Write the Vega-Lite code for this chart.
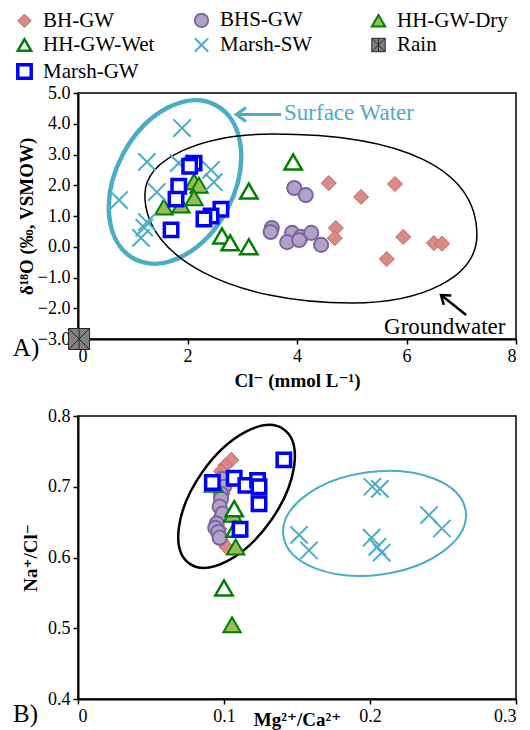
{
  "$schema": "https://vega.github.io/schema/vega-lite/v6.json",
  "padding": {"left": 12, "top": 8, "right": 5, "bottom": 0},
  "background": "white",
  "spacing": 15,
  "config": {
    "font": "Liberation Serif, Times New Roman, DejaVu Serif, serif",
    "view": {"stroke": "black", "strokeWidth": 1.5},
    "axis": {"domainColor": "black", "domainWidth": 2, "tickColor": "black", "tickWidth": 1.5, "tickSize": 5, "labelColor": "black", "labelFont": "Liberation Serif, Times New Roman, DejaVu Serif, serif", "labelFontSize": 18, "labelPadding": 3, "titleFont": "Liberation Serif, Times New Roman, DejaVu Serif, serif", "titleFontSize": 19, "titleFontWeight": "bold", "titleColor": "black", "grid": false},
    "legend": {"columns": 3, "direction": "horizontal", "labelFont": "Liberation Serif, Times New Roman, DejaVu Serif, serif", "labelFontSize": 21, "labelColor": "black", "symbolSize": 180, "columnPadding": 35, "rowPadding": -2.5, "labelOffset": 8, "gridAlign": "all", "padding": 0, "labelLimit": 300}
  },
  "resolve": {"scale": {"shape": "shared", "fill": "shared", "stroke": "shared", "strokeWidth": "shared", "size": "shared"}},
  "datasets": {
    "iso": [
      {"group": "BH-GW", "cl": 4.58, "d18o": 2.07},
      {"group": "BH-GW", "cl": 5.17, "d18o": 1.62},
      {"group": "BH-GW", "cl": 5.79, "d18o": 2.04},
      {"group": "BH-GW", "cl": 4.71, "d18o": 0.61},
      {"group": "BH-GW", "cl": 4.69, "d18o": 0.28},
      {"group": "BH-GW", "cl": 5.94, "d18o": 0.32},
      {"group": "BH-GW", "cl": 6.50, "d18o": 0.12},
      {"group": "BH-GW", "cl": 6.65, "d18o": 0.10},
      {"group": "BH-GW", "cl": 5.64, "d18o": -0.40},
      {"group": "BHS-GW", "cl": 3.95, "d18o": 1.91},
      {"group": "BHS-GW", "cl": 4.16, "d18o": 1.68},
      {"group": "BHS-GW", "cl": 3.54, "d18o": 0.61},
      {"group": "BHS-GW", "cl": 3.52, "d18o": 0.48},
      {"group": "BHS-GW", "cl": 3.91, "d18o": 0.45},
      {"group": "BHS-GW", "cl": 4.07, "d18o": 0.32},
      {"group": "BHS-GW", "cl": 4.26, "d18o": 0.45},
      {"group": "BHS-GW", "cl": 3.82, "d18o": 0.15},
      {"group": "BHS-GW", "cl": 4.04, "d18o": 0.22},
      {"group": "BHS-GW", "cl": 4.44, "d18o": 0.06},
      {"group": "HH-GW-Dry", "cl": 2.12, "d18o": 2.11},
      {"group": "HH-GW-Dry", "cl": 2.21, "d18o": 2.00},
      {"group": "HH-GW-Dry", "cl": 2.12, "d18o": 1.59},
      {"group": "HH-GW-Dry", "cl": 1.57, "d18o": 1.29},
      {"group": "HH-GW-Dry", "cl": 1.88, "d18o": 1.36},
      {"group": "HH-GW-Wet", "cl": 3.12, "d18o": 1.81},
      {"group": "HH-GW-Wet", "cl": 3.93, "d18o": 2.76},
      {"group": "HH-GW-Wet", "cl": 2.63, "d18o": 0.35},
      {"group": "HH-GW-Wet", "cl": 2.78, "d18o": 0.13},
      {"group": "HH-GW-Wet", "cl": 3.12, "d18o": 0.0},
      {"group": "Marsh-SW", "cl": 1.90, "d18o": 3.86},
      {"group": "Marsh-SW", "cl": 1.26, "d18o": 2.76},
      {"group": "Marsh-SW", "cl": 1.84, "d18o": 2.72},
      {"group": "Marsh-SW", "cl": 2.43, "d18o": 2.50},
      {"group": "Marsh-SW", "cl": 2.48, "d18o": 2.10},
      {"group": "Marsh-SW", "cl": 0.75, "d18o": 1.52},
      {"group": "Marsh-SW", "cl": 1.44, "d18o": 1.78},
      {"group": "Marsh-SW", "cl": 1.26, "d18o": 0.80},
      {"group": "Marsh-SW", "cl": 1.21, "d18o": 0.62},
      {"group": "Marsh-SW", "cl": 1.15, "d18o": 0.29},
      {"group": "Rain", "cl": 0.02, "d18o": -3.0},
      {"group": "Marsh-GW", "cl": 2.12, "d18o": 2.72},
      {"group": "Marsh-GW", "cl": 2.04, "d18o": 2.62},
      {"group": "Marsh-GW", "cl": 1.84, "d18o": 1.97},
      {"group": "Marsh-GW", "cl": 1.79, "d18o": 1.55},
      {"group": "Marsh-GW", "cl": 1.70, "d18o": 0.55},
      {"group": "Marsh-GW", "cl": 2.61, "d18o": 1.22},
      {"group": "Marsh-GW", "cl": 2.43, "d18o": 1.00},
      {"group": "Marsh-GW", "cl": 2.30, "d18o": 0.90}
    ],
    "ion": [
      {"group": "BH-GW", "mg": 0.105, "na": 0.738},
      {"group": "BH-GW", "mg": 0.101, "na": 0.730},
      {"group": "BH-GW", "mg": 0.098, "na": 0.722},
      {"group": "BH-GW", "mg": 0.097, "na": 0.713},
      {"group": "BH-GW", "mg": 0.099, "na": 0.690},
      {"group": "BH-GW", "mg": 0.098, "na": 0.660},
      {"group": "BH-GW", "mg": 0.097, "na": 0.640},
      {"group": "BH-GW", "mg": 0.098, "na": 0.624},
      {"group": "BH-GW", "mg": 0.102, "na": 0.614},
      {"group": "BHS-GW", "mg": 0.099, "na": 0.711},
      {"group": "BHS-GW", "mg": 0.100, "na": 0.700},
      {"group": "BHS-GW", "mg": 0.098, "na": 0.690},
      {"group": "BHS-GW", "mg": 0.098, "na": 0.683},
      {"group": "BHS-GW", "mg": 0.097, "na": 0.672},
      {"group": "BHS-GW", "mg": 0.099, "na": 0.662},
      {"group": "BHS-GW", "mg": 0.095, "na": 0.648},
      {"group": "BHS-GW", "mg": 0.094, "na": 0.642},
      {"group": "BHS-GW", "mg": 0.096, "na": 0.636},
      {"group": "BHS-GW", "mg": 0.097, "na": 0.628},
      {"group": "HH-GW-Dry", "mg": 0.106, "na": 0.661},
      {"group": "HH-GW-Dry", "mg": 0.108, "na": 0.615},
      {"group": "HH-GW-Dry", "mg": 0.1055, "na": 0.505},
      {"group": "HH-GW-Wet", "mg": 0.093, "na": 0.704},
      {"group": "HH-GW-Wet", "mg": 0.107, "na": 0.669},
      {"group": "HH-GW-Wet", "mg": 0.1075, "na": 0.640},
      {"group": "HH-GW-Wet", "mg": 0.100, "na": 0.557},
      {"group": "Marsh-SW", "mg": 0.2016, "na": 0.700},
      {"group": "Marsh-SW", "mg": 0.2068, "na": 0.697},
      {"group": "Marsh-SW", "mg": 0.2404, "na": 0.660},
      {"group": "Marsh-SW", "mg": 0.2493, "na": 0.641},
      {"group": "Marsh-SW", "mg": 0.2011, "na": 0.628},
      {"group": "Marsh-SW", "mg": 0.2050, "na": 0.615},
      {"group": "Marsh-SW", "mg": 0.2080, "na": 0.607},
      {"group": "Marsh-SW", "mg": 0.1514, "na": 0.632},
      {"group": "Marsh-SW", "mg": 0.1582, "na": 0.610},
      {"group": "Marsh-GW", "mg": 0.092, "na": 0.706},
      {"group": "Marsh-GW", "mg": 0.107, "na": 0.712},
      {"group": "Marsh-GW", "mg": 0.115, "na": 0.702},
      {"group": "Marsh-GW", "mg": 0.123, "na": 0.709},
      {"group": "Marsh-GW", "mg": 0.124, "na": 0.700},
      {"group": "Marsh-GW", "mg": 0.124, "na": 0.676},
      {"group": "Marsh-GW", "mg": 0.141, "na": 0.738},
      {"group": "Marsh-GW", "mg": 0.111, "na": 0.640}
    ]
  },
  "vconcat": [
    {
      "width": 438,
      "height": 246,
      "encoding": {
        "x": {"field": "cl", "type": "quantitative", "scale": {"domain": [0, 8], "nice": false, "zero": false}, "axis": {"values": [0, 2, 4, 6, 8], "title": "Cl⁻ (mmol L⁻¹)", "titlePadding": 6}},
        "y": {"field": "d18o", "type": "quantitative", "scale": {"domain": [-3, 5], "nice": false, "zero": false}, "axis": {"values": [-3, -2, -1, 0, 1, 2, 3, 4, 5], "format": ".1f", "title": "δ¹⁸O (‰, VSMOW)", "titlePadding": 1}}
      },
      "layer": [
        {
          "data": {"values": [{"cl": 1.772, "d18o": 2.106}]},
          "mark": {"type": "point", "shape": "M-59,0A59,87,0,1,0,59,0A59,87,0,1,0,-59,0Z", "size": 4, "angle": 28, "filled": false, "stroke": "#4bacc6", "strokeWidth": 4.5, "opacity": 1}
        },
        {
          "data": {"values": [{"cl": 4.29, "d18o": 0.935}]},
          "mark": {"type": "point", "shape": "M-168,-23C-168,-60,-110,-84,-40,-84C88,-84,164,-50,164,17C164,60,108,85,39,85C-80,85,-168,40,-168,-23Z", "size": 4, "filled": false, "stroke": "black", "strokeWidth": 1.5, "opacity": 1}
        },
        {
          "data": {"name": "iso"},
          "mark": {"type": "point", "opacity": 1},
          "encoding": {
            "shape": {"field": "group", "type": "nominal", "scale": {"domain": ["BH-GW", "BHS-GW", "HH-GW-Dry", "HH-GW-Wet", "Marsh-SW", "Rain", "Marsh-GW"], "range": ["diamond", "circle", "triangle-up", "triangle-up", "M-1,-1L1,1M1,-1L-1,1", "M-1,-1L1,-1L1,1L-1,1ZM-1,-1L1,1M1,-1L-1,1M0,-1L0,1", "square"]}, "legend": {"title": null, "orient": "none", "legendX": -64, "legendY": -85}},
            "fill": {"field": "group", "type": "nominal", "scale": {"domain": ["BH-GW", "BHS-GW", "HH-GW-Dry", "HH-GW-Wet", "Marsh-SW", "Rain", "Marsh-GW"], "range": ["#da8a85", "#b3a2c7", "#9bbb59", "white", "transparent", "#808080", "white"]}, "legend": {"title": null, "orient": "none", "legendX": -64, "legendY": -85}},
            "stroke": {"field": "group", "type": "nominal", "scale": {"domain": ["BH-GW", "BHS-GW", "HH-GW-Dry", "HH-GW-Wet", "Marsh-SW", "Rain", "Marsh-GW"], "range": ["#c9605c", "#8064a2", "#008000", "#008000", "#4bacc6", "#262626", "#0000ff"]}, "legend": {"title": null, "orient": "none", "legendX": -64, "legendY": -85}},
            "strokeWidth": {"field": "group", "type": "ordinal", "scale": {"type": "ordinal", "domain": ["BH-GW", "BHS-GW", "HH-GW-Dry", "HH-GW-Wet", "Marsh-SW", "Rain", "Marsh-GW"], "range": [1, 2, 2, 2.5, 2, 1, 3.5]}, "legend": {"title": null, "orient": "none", "legendX": -64, "legendY": -85}},
            "size": {"field": "group", "type": "ordinal", "scale": {"type": "ordinal", "domain": ["Rain", "BH-GW", "BHS-GW", "HH-GW-Dry", "HH-GW-Wet", "Marsh-SW", "Marsh-GW"], "range": [440, 225, 200, 300, 300, 300, 180]}, "legend": null}
          }
        },
        {
          "data": {"values": [{"cl": 2.89, "d18o": 4.30, "cl2": 3.71, "d2": 4.30}]},
          "mark": {"type": "rule", "stroke": "#4bacc6", "strokeWidth": 3},
          "encoding": {"x2": {"field": "cl2"}, "y2": {"field": "d2"}}
        },
        {
          "data": {"values": [{"cl": 2.89, "d18o": 4.30}]},
          "mark": {"type": "point", "shape": "M1.4,-1L0,0L1.4,1", "size": 196, "filled": false, "stroke": "#4bacc6", "strokeWidth": 3, "opacity": 1}
        },
        {
          "data": {"values": [{"cl": 3.763, "d18o": 4.35, "t": "Surface Water"}]},
          "mark": {"type": "text", "align": "left", "baseline": "middle", "fontSize": 23, "color": "#4bacc6"},
          "encoding": {"text": {"field": "t"}}
        },
        {
          "data": {"values": [{"cl": 6.63, "d18o": -1.57, "cl2": 7.09, "d2": -2.22}]},
          "mark": {"type": "rule", "stroke": "black", "strokeWidth": 2.5},
          "encoding": {"x2": {"field": "cl2"}, "y2": {"field": "d2"}}
        },
        {
          "data": {"values": [{"cl": 6.63, "d18o": -1.57}]},
          "mark": {"type": "point", "shape": "M1.4,-1L0,0L1.4,1", "size": 144, "angle": 38.7, "filled": false, "stroke": "black", "strokeWidth": 2.5, "opacity": 1}
        },
        {
          "data": {"values": [{"cl": 5.59, "d18o": -2.61, "t": "Groundwater"}]},
          "mark": {"type": "text", "align": "left", "baseline": "middle", "fontSize": 23, "color": "black"},
          "encoding": {"text": {"field": "t"}}
        },
        {
          "data": {"values": [{"cl": -1.19, "d18o": -3.29, "t": "A)"}]},
          "mark": {"type": "text", "align": "left", "baseline": "middle", "fontSize": 25, "color": "black"},
          "encoding": {"text": {"field": "t"}}
        }
      ]
    },
    {
      "width": 438,
      "height": 283,
      "encoding": {
        "x": {"field": "mg", "type": "quantitative", "scale": {"domain": [0, 0.3], "nice": false, "zero": false}, "axis": {"values": [0, 0.1, 0.2, 0.3], "format": "~g", "title": "Mg²⁺/Ca²⁺", "titlePadding": -15}},
        "y": {"field": "na", "type": "quantitative", "scale": {"domain": [0.4, 0.8], "nice": false, "zero": false}, "axis": {"values": [0.4, 0.5, 0.6, 0.7, 0.8], "format": ".1f", "title": "Na⁺/Cl⁻", "titlePadding": 7}}
      },
      "layer": [
        {
          "data": {"values": [{"mg": 0.1086, "na": 0.6863}]},
          "mark": {"type": "point", "shape": "M-42,0A42,82,0,1,0,42,0A42,82,0,1,0,-42,0Z", "size": 4, "angle": 35, "filled": false, "stroke": "black", "strokeWidth": 2.5, "opacity": 1}
        },
        {
          "data": {"values": [{"mg": 0.2031, "na": 0.6482}]},
          "mark": {"type": "point", "shape": "M-92,0A92,51.5,0,1,0,92,0A92,51.5,0,1,0,-92,0Z", "size": 4, "angle": -7.6, "filled": false, "stroke": "#4bacc6", "strokeWidth": 2, "opacity": 1}
        },
        {
          "data": {"name": "ion"},
          "mark": {"type": "point", "opacity": 1},
          "encoding": {
            "shape": {"field": "group", "type": "nominal", "scale": {"domain": ["BH-GW", "BHS-GW", "HH-GW-Dry", "HH-GW-Wet", "Marsh-SW", "Rain", "Marsh-GW"], "range": ["diamond", "circle", "triangle-up", "triangle-up", "M-1,-1L1,1M1,-1L-1,1", "M-1,-1L1,-1L1,1L-1,1ZM-1,-1L1,1M1,-1L-1,1M0,-1L0,1", "square"]}, "legend": {"title": null, "orient": "none", "legendX": -64, "legendY": -85}},
            "fill": {"field": "group", "type": "nominal", "scale": {"domain": ["BH-GW", "BHS-GW", "HH-GW-Dry", "HH-GW-Wet", "Marsh-SW", "Rain", "Marsh-GW"], "range": ["#da8a85", "#b3a2c7", "#9bbb59", "white", "transparent", "#808080", "white"]}, "legend": {"title": null, "orient": "none", "legendX": -64, "legendY": -85}},
            "stroke": {"field": "group", "type": "nominal", "scale": {"domain": ["BH-GW", "BHS-GW", "HH-GW-Dry", "HH-GW-Wet", "Marsh-SW", "Rain", "Marsh-GW"], "range": ["#c9605c", "#8064a2", "#008000", "#008000", "#4bacc6", "#262626", "#0000ff"]}, "legend": {"title": null, "orient": "none", "legendX": -64, "legendY": -85}},
            "strokeWidth": {"field": "group", "type": "ordinal", "scale": {"type": "ordinal", "domain": ["BH-GW", "BHS-GW", "HH-GW-Dry", "HH-GW-Wet", "Marsh-SW", "Rain", "Marsh-GW"], "range": [1, 2, 2, 2.5, 2, 1, 3.5]}, "legend": {"title": null, "orient": "none", "legendX": -64, "legendY": -85}},
            "size": {"field": "group", "type": "ordinal", "scale": {"type": "ordinal", "domain": ["Rain", "BH-GW", "BHS-GW", "HH-GW-Dry", "HH-GW-Wet", "Marsh-SW", "Marsh-GW"], "range": [440, 225, 200, 300, 300, 300, 180]}, "legend": null}
          }
        },
        {
          "data": {"values": [{"mg": -0.0445, "na": 0.379, "t": "B)"}]},
          "mark": {"type": "text", "align": "left", "baseline": "middle", "fontSize": 25, "color": "black"},
          "encoding": {"text": {"field": "t"}}
        }
      ]
    }
  ]
}
